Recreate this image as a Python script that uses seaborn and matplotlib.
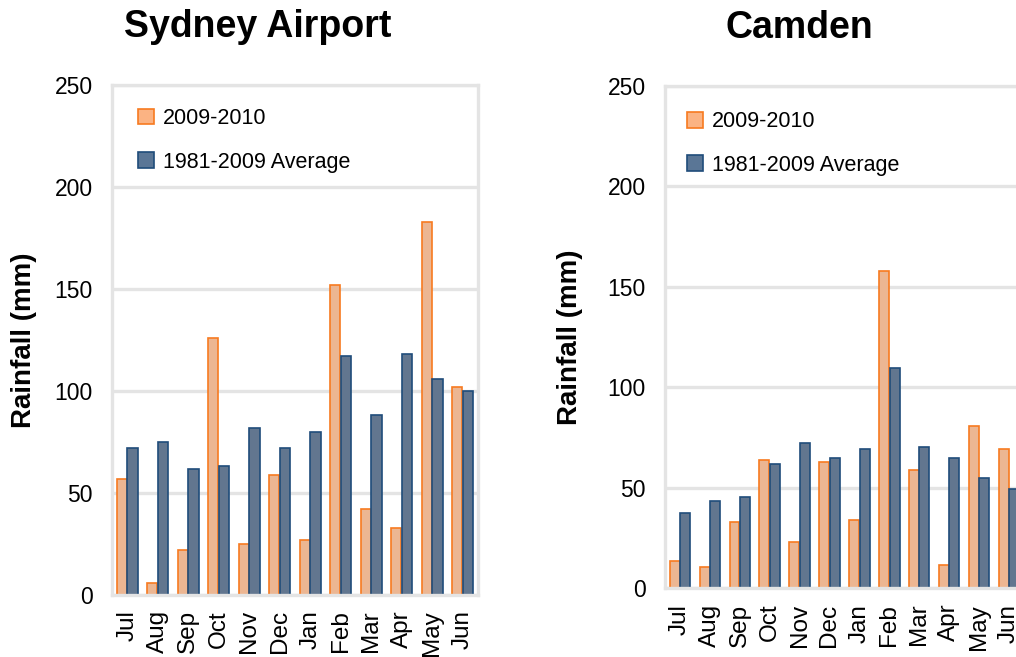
import matplotlib
matplotlib.use("Agg")
import matplotlib.pyplot as plt
import numpy as np
import pandas as pd
import seaborn as sns
from matplotlib.patches import Patch

months = ["Jul", "Aug", "Sep", "Oct", "Nov", "Dec",
          "Jan", "Feb", "Mar", "Apr", "May", "Jun"]
periods = ["2009-2010", "1981-2009 Average"]

sydney_2009 = [57, 6, 22, 126, 25, 59, 27, 152, 42, 33, 183, 102]
sydney_avg = [72, 75, 62, 63, 82, 72, 80, 117, 88, 118, 106, 100]
camden_2009 = [13.5, 10.5, 33, 64, 23, 63, 34, 158, 59, 11.5, 81, 69.5]
camden_avg = [37.5, 43.5, 45.5, 62, 72.5, 65, 69.5, 109.5, 70.5, 65, 55, 49.5]

y_ticks = [0, 50, 100, 150, 200, 250]

FILL = {"2009-2010": "#FBB383", "1981-2009 Average": "#5A7696"}
EDGE = {"2009-2010": "#F77A20", "1981-2009 Average": "#1F4C7A"}
GRID = "#E4E4E4"


def make_frame(recent, avg):
    return pd.DataFrame({
        "month": months * 2,
        "period": [periods[0]] * len(months) + [periods[1]] * len(months),
        "rain": list(recent) + list(avg),
    })


def draw_panel(ax, df, legend_anchor, ylabel_x):
    sns.barplot(data=df, x="month", y="rain", hue="period", order=months,
                hue_order=periods, palette=FILL, width=0.7, gap=0.05,
                linewidth=1.2, legend=False, ax=ax)
    for cont, per in zip(ax.containers, periods):
        for bar in cont:
            bar.set_edgecolor(EDGE[per])

    ax.set_xlim(-0.5, len(months) - 0.5)
    ax.set_ylim(0, 250)
    ax.set_yticks(y_ticks)
    ax.set_axisbelow(True)
    ax.yaxis.grid(True, color=GRID, linewidth=2.4)
    for side in ["left", "right", "top", "bottom"]:
        ax.spines[side].set_visible(True)
        ax.spines[side].set_color(GRID)
        ax.spines[side].set_linewidth(2.4)

    ax.tick_params(axis="y", length=0, pad=14, labelsize=16.5)
    ax.tick_params(axis="x", length=0, pad=11, labelsize=17.5, labelrotation=90)
    ax.set_xlabel("")
    ax.set_ylabel("Rainfall (mm)", fontsize=20, fontweight="bold")
    ax.yaxis.set_label_coords(ylabel_x, 0.5)

    handles = [Patch(facecolor=FILL[p], edgecolor=EDGE[p], linewidth=1.2)
               for p in periods]
    ax.legend(handles, periods, loc="upper left", bbox_to_anchor=legend_anchor,
              frameon=False, fontsize=15.5, handlelength=0.75, handleheight=0.75,
              handletextpad=0.4, labelspacing=1.05, borderpad=0,
              borderaxespad=0)


sns.set_theme(style="white")
plt.rcParams["font.family"] = ["Liberation Sans", "DejaVu Sans"]
plt.rcParams.update({
    "text.color": "black",
    "axes.labelcolor": "black",
    "xtick.color": "black",
    "ytick.color": "black",
})

fig = plt.figure(figsize=(10.16, 6.57), dpi=100)
ax_syd = fig.add_axes([0.1102, 0.0944, 0.3602, 0.7762])
ax_cam = fig.add_axes([0.6545, 0.1043, 0.3533, 0.7648])

draw_panel(ax_syd, make_frame(sydney_2009, sydney_avg), (0.072, 0.955), -0.205)
draw_panel(ax_cam, make_frame(camden_2009, camden_avg), (0.062, 0.95), -0.228)

fig.text(0.254, 0.959, "Sydney Airport", ha="center", va="center",
         fontsize=27, fontweight="bold")
fig.text(0.787, 0.957, "Camden", ha="center", va="center",
         fontsize=27, fontweight="bold")

fig.savefig("out.png", dpi=100, facecolor="white")
